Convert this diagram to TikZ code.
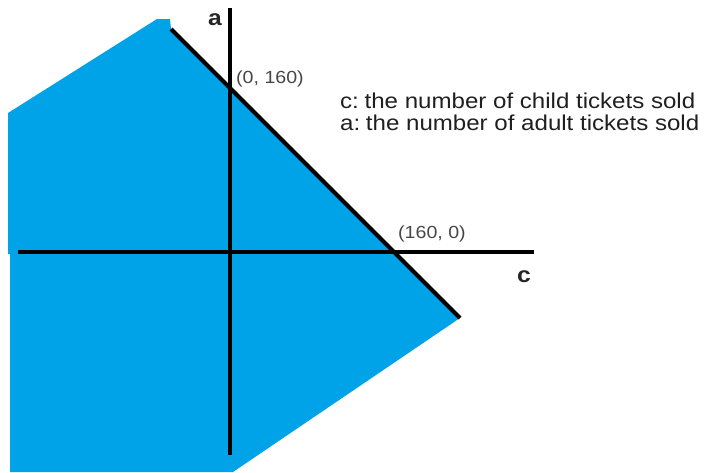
\documentclass[tikz,border=0pt]{standalone}
\usepackage{fontspec}
\setmainfont{Liberation Sans}
\newfontfamily\stretchfont[FakeStretch=1.12]{Liberation Sans}
\definecolor{paintblue}{RGB}{0,162,232}
\definecolor{labelgray}{RGB}{70,70,70}
\begin{document}
\begin{tikzpicture}[x=1pt,y=-1pt,
  axisline/.style={line width=3.2pt, black},
  diagline/.style={line width=4pt, black},
  axislabel/.style={font=\stretchfont\fontsize{22}{26}\selectfont\bfseries, text=black!85, inner sep=0pt},
  pointlabel/.style={font=\stretchfont\fontsize{17.5}{20}\selectfont, text=labelgray, inner sep=0pt, anchor=base west},
  legendtext/.style={font=\stretchfont\fontsize{21.5}{25}\selectfont, text=black!88, inner sep=0pt, anchor=base west}]
\useasboundingbox (0,0) rectangle (709,472);
% feasible region
\fill[paintblue] (157,19) -- (170,19) -- (171,29) -- (460,318) -- (233,472) -- (10,472) -- (10,254) -- (8,254) -- (8,113) -- cycle;
% axes
\coordinate (vtop) at (230,8);
\coordinate (vbot) at (230,455);
\coordinate (hleft) at (18,252);
\coordinate (hright) at (534,252);
\draw[axisline] (vtop) -- (vbot);
\draw[axisline] (hleft) -- (hright);
% boundary line
\coordinate (dstart) at (171,29);
\coordinate (dend) at (460,318);
\draw[diagline] (dstart) -- (dend);
% labels
\node[axislabel] (alabel) at (215,20) {a};
\node[axislabel] (clabel) at (524,277) {c};
\node[pointlabel] (p1) at (236,83) {(0, 160)};
\node[pointlabel] (p2) at (398,238) {(160, 0)};
\node[legendtext] (l1) at (340,108) {c:\hspace{-0.15em} the number of child tickets sold};
\node[legendtext] (l2) at (340,130) {a:\hspace{-0.15em} the number of adult tickets sold};
\end{tikzpicture}
\end{document}
